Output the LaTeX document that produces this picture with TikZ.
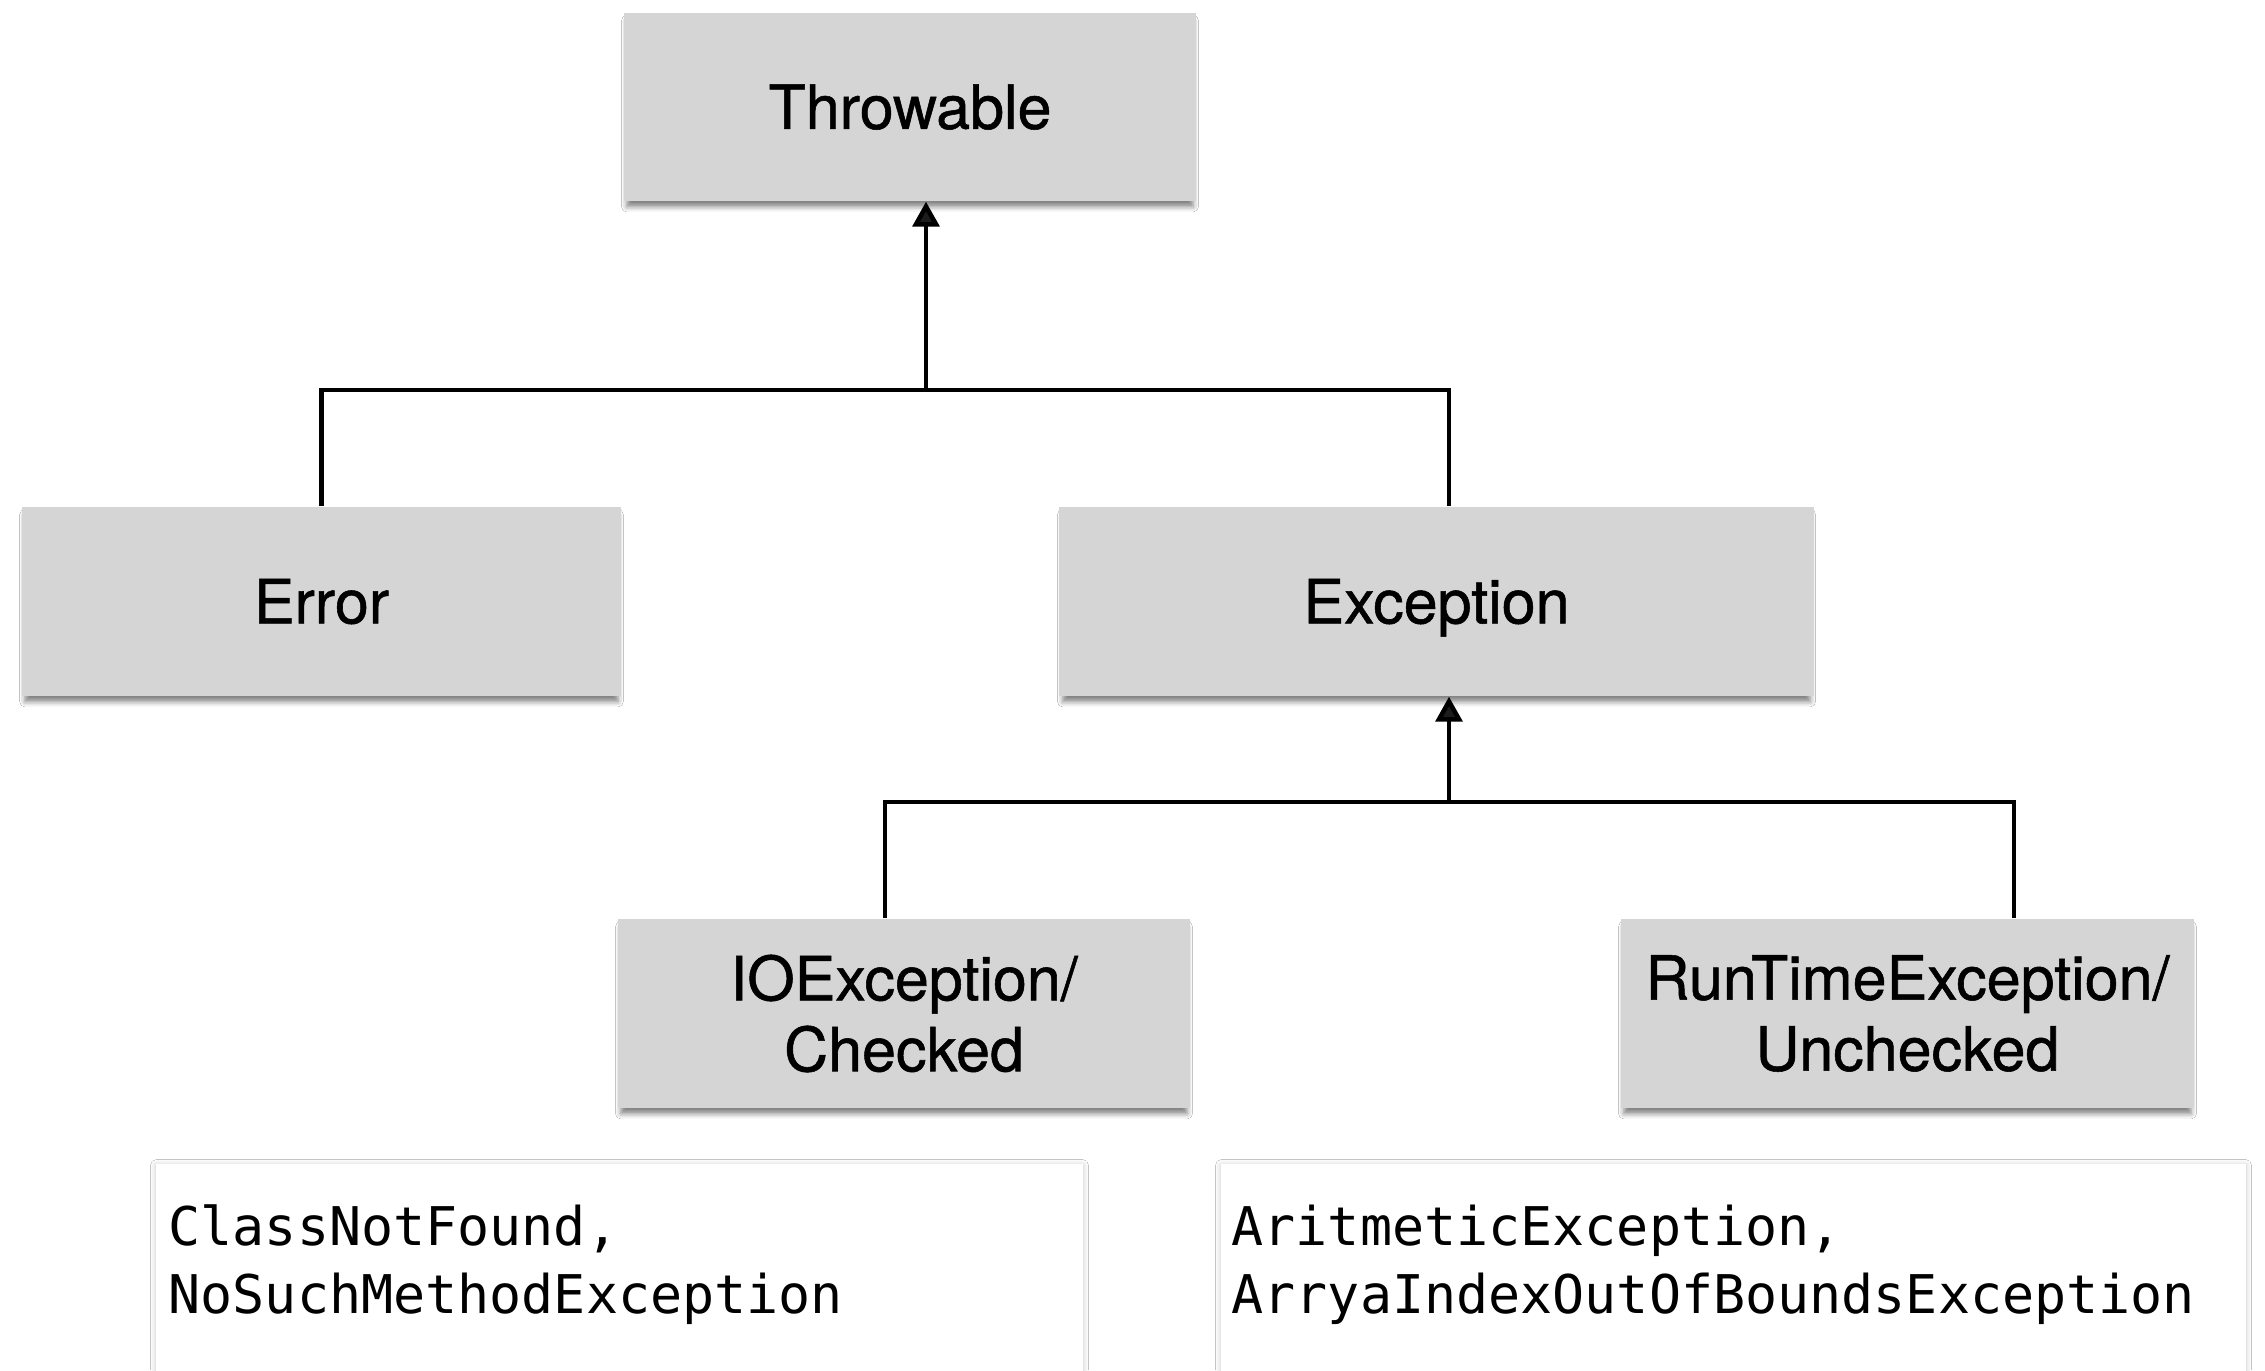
\documentclass[tikz,border=0pt]{standalone}
\usepackage{fontspec}
\setmainfont{TeX Gyre Heros}[FakeBold=0.9]
\newfontfamily\labelfont{TeX Gyre Heros}[FakeBold=0.9]
\setmonofont{DejaVu Sans Mono}
\usetikzlibrary{arrows.meta,shadows.blur}

\definecolor{boxgray}{HTML}{D5D5D5}

\tikzset{
  classbox/.style={
    fill=boxgray, draw=none, align=center, inner sep=0pt,
    font=\labelfont\fontsize{18.3}{21.3}\selectfont,
    blur shadow={shadow xshift=0pt, shadow yshift=-2pt, shadow scale=0.99,
                 shadow blur radius=1.6pt, shadow opacity=50}},
  oneline/.style={text height=13.1pt, text depth=0pt},
  notebox/.style={
    fill=white, draw=none,
    blur shadow={shadow xshift=0pt, shadow yshift=-0.3pt,
                 shadow blur radius=1.6pt, shadow opacity=22}},
  notetext/.style={
    anchor=west, align=left, inner sep=0pt,
    font=\ttfamily\fontsize{16}{20.4}\selectfont},
  conn/.style={line width=1.35pt},
  isa/.style={conn, -{Triangle[length=7.5pt,width=8pt]}}
}

\begin{document}
\begin{tikzpicture}[x=0.3pt, y=-0.3pt]
  % page area (pixel grid, origin at top left)
  \clip (0,0) rectangle (2265,1370);
  \fill[white] (0,0) rectangle (2265,1370);

  % class boxes
  \node[classbox, oneline, minimum width=572*0.3pt, minimum height=188*0.3pt]
    (throwable) at (910,107) {Throwable};
  \node[classbox, oneline, minimum width=599*0.3pt, minimum height=189*0.3pt]
    (error) at (321.5,601.5) {Error};
  \node[classbox, oneline, minimum width=755*0.3pt, minimum height=189*0.3pt]
    (exception) at (1436.5,601.5) {Exception};
  \node[classbox, minimum width=572*0.3pt, minimum height=189*0.3pt]
    (ioexc) at (904,1013.5) {IOException/\\Checked};
  \node[classbox, minimum width=573*0.3pt, minimum height=189*0.3pt]
    (rtexc) at (1907.5,1013.5) {RunTimeException/\\Unchecked};

  % example lists (run past the lower edge)
  \path[notebox] (156,1164) rectangle (1083,1420);
  \path[notebox] (1221,1164) rectangle (2246,1420);
  \node[notetext] (checkedlist) at (168,1265)
    {ClassNotFound,\\NoSuchMethodException};
  \node[notetext] (uncheckedlist) at (1231,1265)
    {AritmeticException,\\ArryaIndexOutOfBoundsException};

  % inheritance buses
  \coordinate (bus1) at (926,390);
  \coordinate (bus1R) at (1449,390);
  \coordinate (bus2) at (1449,802);
  \coordinate (bus2L) at (885,802);
  \coordinate (bus2R) at (2014,802);

  \draw[conn] (error.north) |- (bus1R) -- (exception.north -| bus1R);
  \draw[isa] (bus1) -- (throwable.south -| bus1);

  \draw[conn] (ioexc.north -| bus2L) -- (bus2L) -- (bus2R) -- (rtexc.north -| bus2R);
  \draw[isa] (bus2) -- (exception.south -| bus2);
\end{tikzpicture}
\end{document}
